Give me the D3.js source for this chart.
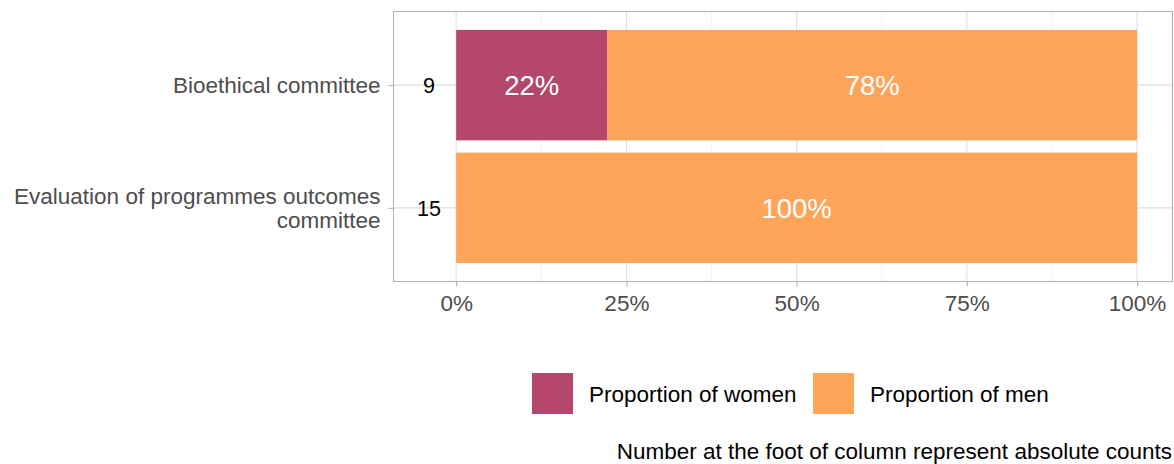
<!DOCTYPE html>
<html>
<head>
<meta charset="utf-8">
<script src="https://cdn.jsdelivr.net/npm/d3@7"></script>
<style>
  html, body { margin: 0; padding: 0; background: #fff; }
  svg { display: block; font-family: "Liberation Sans", Arial, Helvetica, sans-serif; }
</style>
</head>
<body>
<svg id="chart" width="1174" height="464"></svg>
<script>
// Committees and their composition
const committees = ["Bioethical committee", "Evaluation of programmes outcomes committee"];
const committeeLines = [["Bioethical committee"], ["Evaluation of programmes outcomes", "committee"]];
const totals = [9, 15];
const women = [2, 0];
const men = [7, 15];
const seriesNames = ["Proportion of women", "Proportion of men"];
const seriesColors = ["#b5476b", "#fea55a"];
const xTicks = [0, 0.25, 0.5, 0.75, 1];
const xTickLabels = ["0%", "25%", "50%", "75%", "100%"];
const countPos = -0.04;   // where the absolute counts sit on the value axis
const caption = "Number at the foot of column represent absolute counts";

const FONT = "Liberation Sans, Arial, Helvetica, sans-serif";
const svg = d3.select("#chart");
const panel = { left: 393.5, right: 1172.5, top: 11.5, bottom: 281.5 };

// value axis: counts position to 100%, with a 5% pad on each side
const span = 1 - countPos;
const x = d3.scaleLinear()
  .domain([countPos - 0.05 * span, 1 + 0.05 * span])
  .range([panel.left, panel.right]);

// categorical axis with 0.6-unit padding on both ends
const units = committees.length - 1 + 1.2;
const unit = (panel.bottom - panel.top) / units;
const y = d3.scalePoint().domain(committees)
  .range([panel.top + 0.6 * unit, panel.bottom - 0.6 * unit]);
const barH = 0.9 * unit;

// grid
const g = svg.append("g");
const minor = d3.range(-0.125, 1.2, 0.25).filter(v => x(v) > panel.left && x(v) < panel.right);
g.selectAll(".minor").data(minor).enter().append("line")
  .attr("x1", d => x(d)).attr("x2", d => x(d))
  .attr("y1", panel.top).attr("y2", panel.bottom)
  .attr("stroke", "#ededed").attr("stroke-width", 0.55);
g.selectAll(".major").data(xTicks).enter().append("line")
  .attr("x1", d => x(d)).attr("x2", d => x(d))
  .attr("y1", panel.top).attr("y2", panel.bottom)
  .attr("stroke", "#dedede").attr("stroke-width", 1.1);
g.selectAll(".majory").data(committees).enter().append("line")
  .attr("x1", panel.left).attr("x2", panel.right)
  .attr("y1", d => y(d)).attr("y2", d => y(d))
  .attr("stroke", "#dedede").attr("stroke-width", 1.1);

// stacked bars
const rows = committees.map((c, i) => {
  const pw = women[i] / totals[i], pm = men[i] / totals[i];
  return { c, i, segs: [
    { s: 0, x0: 0, x1: pw, v: pw },
    { s: 1, x0: pw, x1: pw + pm, v: pm }
  ]};
});
rows.forEach(r => {
  r.segs.filter(s => s.v > 0).forEach(s => {
    g.append("rect")
      .attr("x", x(s.x0)).attr("width", x(s.x1) - x(s.x0))
      .attr("y", y(r.c) - barH / 2).attr("height", barH)
      .attr("fill", seriesColors[s.s]);
    g.append("text")
      .attr("x", (x(s.x0) + x(s.x1)) / 2).attr("y", y(r.c))
      .attr("dy", "0.36em").attr("text-anchor", "middle")
      .attr("fill", "#fff").attr("font-size", 27.5)
      .text(Math.round(s.v * 100) + "%");
  });
  g.append("text")
    .attr("x", x(countPos)).attr("y", y(r.c)).attr("dy", "0.36em")
    .attr("text-anchor", "middle").attr("fill", "#000").attr("font-size", 21.6)
    .text(totals[r.i]);
});

// panel border
g.append("rect")
  .attr("x", panel.left).attr("y", panel.top)
  .attr("width", panel.right - panel.left).attr("height", panel.bottom - panel.top)
  .attr("fill", "none").attr("stroke", "#b3b3b3").attr("stroke-width", 1.1);

// x axis
const xa = svg.append("g").attr("transform", `translate(0,${panel.bottom})`)
  .call(d3.axisBottom(x).tickValues(xTicks).tickSize(5).tickPadding(9)
    .tickFormat((d, i) => xTickLabels[i]));
xa.select(".domain").remove();
xa.selectAll("line").attr("stroke", "#b3b3b3").attr("stroke-width", 1.1);
xa.selectAll("text").attr("fill", "#4d4d4d").attr("font-size", 22.5)
  .attr("font-family", FONT);

// y axis
const ya = svg.append("g").attr("transform", `translate(${panel.left},0)`)
  .call(d3.axisLeft(y).tickSize(5).tickPadding(8).tickFormat(""));
ya.select(".domain").remove();
ya.selectAll("line").attr("stroke", "#b3b3b3").attr("stroke-width", 1.1);
committees.forEach((c, i) => {
  const lines = committeeLines[i];
  const lh = 24;
  const t = svg.append("text")
    .attr("x", panel.left - 13).attr("text-anchor", "end")
    .attr("fill", "#4d4d4d").attr("font-size", 22.5);
  lines.forEach((ln, k) => {
    t.append("tspan").attr("x", panel.left - 13)
      .attr("y", y(c) + (k - (lines.length - 1) / 2) * lh)
      .attr("dy", "0.36em").text(ln);
  });
});

// legend
const legendX = [532, 813];
const leg = svg.append("g");
seriesNames.forEach((n, i) => {
  leg.append("rect").attr("x", legendX[i]).attr("y", 373)
    .attr("width", 41).attr("height", 41).attr("fill", seriesColors[i]);
  leg.append("text").attr("x", legendX[i] + 57).attr("y", 394)
    .attr("dy", "0.36em").attr("fill", "#000").attr("font-size", 22.5).text(n);
});

// caption
svg.append("text").attr("x", 1172).attr("y", 459)
  .attr("text-anchor", "end").attr("fill", "#000").attr("font-size", 22.5)
  .text(caption);
</script>
</body>
</html>
